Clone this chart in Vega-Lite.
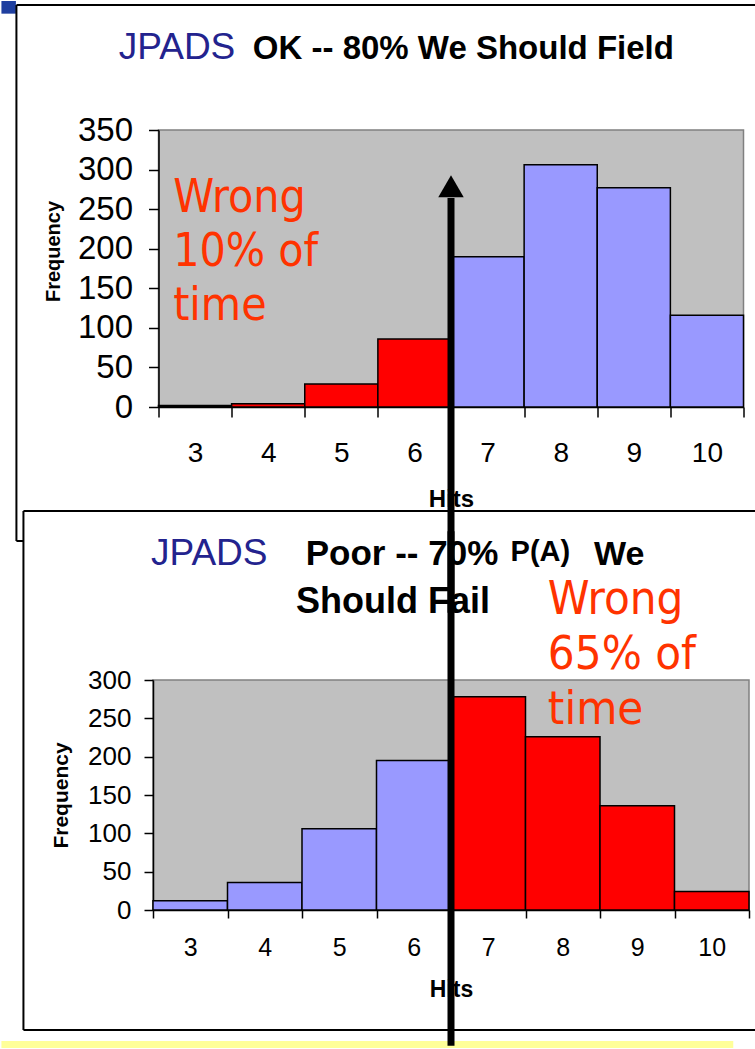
{
  "$schema": "https://vega.github.io/schema/vega-lite/v6.json",
  "padding": 0,
  "autosize": {"type": "pad"},
  "background": "white",
  "datasets": {
    "ok": [
      {"hits": 3, "frequency": 2, "outcome": "wrong"},
      {"hits": 4, "frequency": 4, "outcome": "wrong"},
      {"hits": 5, "frequency": 29, "outcome": "wrong"},
      {"hits": 6, "frequency": 86, "outcome": "wrong"},
      {"hits": 7, "frequency": 190, "outcome": "right"},
      {"hits": 8, "frequency": 306, "outcome": "right"},
      {"hits": 9, "frequency": 277, "outcome": "right"},
      {"hits": 10, "frequency": 116, "outcome": "right"}
    ],
    "poor": [
      {"hits": 3, "frequency": 12, "outcome": "right"},
      {"hits": 4, "frequency": 36, "outcome": "right"},
      {"hits": 5, "frequency": 106, "outcome": "right"},
      {"hits": 6, "frequency": 195, "outcome": "right"},
      {"hits": 7, "frequency": 278, "outcome": "wrong"},
      {"hits": 8, "frequency": 226, "outcome": "wrong"},
      {"hits": 9, "frequency": 136, "outcome": "wrong"},
      {"hits": 10, "frequency": 24, "outcome": "wrong"}
    ]
  },
  "vconcat": [
    {
      "width": 585,
      "height": 277,
      "layer": [
        {
          "data": {"name": "ok"},
          "mark": {"type": "bar", "stroke": "black", "strokeWidth": 1.5},
          "encoding": {
            "x": {
              "field": "hits",
              "type": "ordinal",
              "scale": {"domain": [3, 4, 5, 6, 7, 8, 9, 10], "paddingInner": 0, "paddingOuter": 0},
              "axis": {
                "title": "Hits",
                "labelAngle": 0,
                "tickBand": "extent",
                "tickSize": 10,
                "labelFontSize": 28,
                "labelPadding": 22,
                "labelOverlap": false,
                "titleFontSize": 24,
                "titleFontWeight": "bold",
                "titlePadding": 20,
                "domainWidth": 1.5
              }
            },
            "y": {
              "field": "frequency",
              "type": "quantitative",
              "scale": {"domain": [0, 350], "nice": false},
              "axis": {
                "title": "Frequency",
                "values": [0, 50, 100, 150, 200, 250, 300, 350],
                "tickCount": 8,
                "tickSize": 10,
                "labelFontSize": 33,
                "labelPadding": 16,
                "labelOverlap": false,
                "titleFontSize": 20,
                "titleFontWeight": "bold",
                "titlePadding": 14,
                "titleY": 121,
                "domainWidth": 1.5
              }
            },
            "color": {
              "field": "outcome",
              "type": "nominal",
              "scale": {"domain": ["wrong", "right"], "range": ["#FF0000", "#9999FF"]},
              "legend": null
            }
          }
        },
        {
          "data": {"values": [{}]},
          "mark": {"type": "rect", "fill": "#1F3F9F"},
          "encoding": {
            "x": {"datum": 3, "type": "ordinal", "bandPosition": -2.148},
            "x2": {"datum": 3, "bandPosition": -1.95},
            "y": {"datum": 513, "type": "quantitative"},
            "y2": {"datum": 497}
          }
        },
        {
          "data": {"values": [{}]},
          "mark": {"type": "rule", "color": "black", "strokeWidth": 2},
          "encoding": {
            "x": {"datum": 3, "type": "ordinal", "bandPosition": -1.943},
            "x2": {"datum": 10, "bandPosition": 1.16},
            "y": {"datum": 508, "type": "quantitative"}
          }
        },
        {
          "data": {"values": [{}]},
          "mark": {"type": "rule", "color": "black", "strokeWidth": 2},
          "encoding": {
            "x": {"datum": 3, "type": "ordinal", "bandPosition": -1.943},
            "y": {"datum": 508, "type": "quantitative"},
            "y2": {"datum": -169.3}
          }
        },
        {
          "data": {"values": [{}]},
          "mark": {"type": "rule", "color": "black", "strokeWidth": 2},
          "encoding": {
            "x": {"datum": 3, "type": "ordinal", "bandPosition": -1.943},
            "x2": {"datum": 10, "bandPosition": 1.16},
            "y": {"datum": -169.3, "type": "quantitative"}
          }
        },
        {
          "data": {"values": [{}]},
          "mark": {"type": "rect", "fill": "white"},
          "encoding": {
            "x": {"datum": 3, "type": "ordinal", "bandPosition": -1.847},
            "x2": {"datum": 10, "bandPosition": 1.16},
            "y": {"datum": -131.4, "type": "quantitative"},
            "y2": {"datum": -787.2}
          }
        },
        {
          "data": {"values": [{}]},
          "mark": {"type": "rule", "color": "black", "strokeWidth": 2},
          "encoding": {
            "x": {"datum": 3, "type": "ordinal", "bandPosition": -1.847},
            "x2": {"datum": 10, "bandPosition": 1.16},
            "y": {"datum": -131.4, "type": "quantitative"}
          }
        },
        {
          "data": {"values": [{}]},
          "mark": {"type": "rule", "color": "black", "strokeWidth": 2},
          "encoding": {
            "x": {"datum": 3, "type": "ordinal", "bandPosition": -1.847},
            "y": {"datum": -131.4, "type": "quantitative"},
            "y2": {"datum": -787.2}
          }
        },
        {
          "data": {"values": [{}]},
          "mark": {"type": "rule", "color": "black", "strokeWidth": 2},
          "encoding": {
            "x": {"datum": 3, "type": "ordinal", "bandPosition": -1.847},
            "x2": {"datum": 10, "bandPosition": 1.16},
            "y": {"datum": -787.2, "type": "quantitative"}
          }
        },
        {
          "data": {"values": [{}]},
          "mark": {"type": "rect", "fill": "#FFFF99"},
          "encoding": {
            "x": {"datum": 3, "type": "ordinal", "bandPosition": -2.148},
            "x2": {"datum": 10, "bandPosition": 0.86},
            "y": {"datum": -801, "type": "quantitative"},
            "y2": {"datum": -810}
          }
        },
        {
          "data": {"values": [{"t": "JPADS"}]},
          "mark": {"type": "text", "align": "right", "baseline": "alphabetic", "font": "Liberation Sans", "fontSize": 37, "color": "#23238E"},
          "encoding": {
            "x": {"datum": 4, "type": "ordinal", "bandPosition": 0.05},
            "y": {"datum": 439.7, "type": "quantitative"},
            "text": {"field": "t"}
          }
        },
        {
          "data": {"values": [{"t": "OK -- 80% We Should Field"}]},
          "mark": {"type": "text", "align": "left", "baseline": "alphabetic", "font": "Liberation Sans", "fontSize": 33, "fontWeight": "bold", "color": "black"},
          "encoding": {
            "x": {"datum": 4, "type": "ordinal", "bandPosition": 0.29},
            "y": {"datum": 439.7, "type": "quantitative"},
            "text": {"field": "t"}
          }
        },
        {
          "data": {"values": [{"t": "Wrong\n10% of\ntime"}]},
          "mark": {"type": "text", "align": "left", "baseline": "alphabetic", "lineBreak": "\n", "lineHeight": 54, "font": "DejaVu Sans Condensed, DejaVu Sans", "fontSize": 46, "color": "#FF3300"},
          "encoding": {
            "x": {"datum": 3, "type": "ordinal", "bandPosition": 0.2},
            "y": {"datum": 246, "type": "quantitative"},
            "text": {"field": "t"}
          }
        },
        {
          "data": {"values": [{}]},
          "mark": {"type": "rule", "color": "black", "strokeWidth": 7},
          "encoding": {
            "x": {"datum": 7, "type": "ordinal", "bandPosition": 0},
            "y": {"datum": 264, "type": "quantitative"},
            "y2": {"datum": -260}
          }
        },
        {
          "data": {"values": [{}]},
          "mark": {"type": "point", "shape": "triangle-up", "filled": true, "color": "black", "opacity": 1, "size": 650},
          "encoding": {
            "x": {"datum": 7, "type": "ordinal", "bandPosition": 0},
            "y": {"datum": 279, "type": "quantitative"}
          }
        }
      ]
    },
    {
      "width": 596,
      "height": 230,
      "layer": [
        {
          "data": {"name": "poor"},
          "mark": {"type": "bar", "stroke": "black", "strokeWidth": 1.5},
          "encoding": {
            "x": {
              "field": "hits",
              "type": "ordinal",
              "scale": {"domain": [3, 4, 5, 6, 7, 8, 9, 10], "paddingInner": 0, "paddingOuter": 0},
              "axis": {
                "title": "Hits",
                "labelAngle": 0,
                "tickBand": "extent",
                "tickSize": 8,
                "labelFontSize": 25,
                "labelPadding": 17,
                "labelOverlap": false,
                "titleFontSize": 23,
                "titleFontWeight": "bold",
                "titlePadding": 18,
                "domainWidth": 1.5
              }
            },
            "y": {
              "field": "frequency",
              "type": "quantitative",
              "scale": {"domain": [0, 300], "nice": false},
              "axis": {
                "title": "Frequency",
                "values": [0, 50, 100, 150, 200, 250, 300],
                "tickCount": 7,
                "tickSize": 9,
                "labelFontSize": 26,
                "labelPadding": 13,
                "labelOverlap": false,
                "titleFontSize": 21,
                "titleFontWeight": "bold",
                "titlePadding": 16,
                "domainWidth": 1.5
              }
            },
            "color": {
              "field": "outcome",
              "type": "nominal",
              "scale": {"domain": ["wrong", "right"], "range": ["#FF0000", "#9999FF"]},
              "legend": null
            }
          }
        },
        {
          "data": {"values": [{"t": "JPADS"}]},
          "mark": {"type": "text", "align": "left", "baseline": "alphabetic", "font": "Liberation Sans", "fontSize": 37, "color": "#23238E"},
          "encoding": {
            "x": {"datum": 3, "type": "ordinal", "bandPosition": -0.027},
            "y": {"datum": 450, "type": "quantitative"},
            "text": {"field": "t"}
          }
        },
        {
          "data": {"values": [{"t": "Poor -- 70%"}]},
          "mark": {"type": "text", "align": "left", "baseline": "alphabetic", "font": "Liberation Sans", "fontSize": 35, "fontWeight": "bold", "color": "black"},
          "encoding": {
            "x": {"datum": 5, "type": "ordinal", "bandPosition": 0.05},
            "y": {"datum": 450, "type": "quantitative"},
            "text": {"field": "t"}
          }
        },
        {
          "data": {"values": [{"t": "P(A)"}]},
          "mark": {"type": "text", "align": "left", "baseline": "alphabetic", "font": "Liberation Sans", "fontSize": 29, "fontWeight": "bold", "color": "black"},
          "encoding": {
            "x": {"datum": 7, "type": "ordinal", "bandPosition": 0.8},
            "y": {"datum": 455, "type": "quantitative"},
            "text": {"field": "t"}
          }
        },
        {
          "data": {"values": [{"t": "We"}]},
          "mark": {"type": "text", "align": "left", "baseline": "alphabetic", "font": "Liberation Sans", "fontSize": 34, "fontWeight": "bold", "color": "black"},
          "encoding": {
            "x": {"datum": 8, "type": "ordinal", "bandPosition": 0.92},
            "y": {"datum": 450, "type": "quantitative"},
            "text": {"field": "t"}
          }
        },
        {
          "data": {"values": [{"t": "Should Fail"}]},
          "mark": {"type": "text", "align": "left", "baseline": "alphabetic", "font": "Liberation Sans", "fontSize": 36, "fontWeight": "bold", "color": "black"},
          "encoding": {
            "x": {"datum": 4, "type": "ordinal", "bandPosition": 0.92},
            "y": {"datum": 387, "type": "quantitative"},
            "text": {"field": "t"}
          }
        },
        {
          "data": {"values": [{"t": "Wrong\n65% of\ntime"}]},
          "mark": {"type": "text", "align": "left", "baseline": "alphabetic", "lineBreak": "\n", "lineHeight": 55, "font": "DejaVu Sans Condensed, DejaVu Sans", "fontSize": 47, "color": "#FF3300"},
          "encoding": {
            "x": {"datum": 8, "type": "ordinal", "bandPosition": 0.3},
            "y": {"datum": 386, "type": "quantitative"},
            "text": {"field": "t"}
          }
        },
        {
          "data": {"values": [{}]},
          "mark": {"type": "rule", "color": "black", "strokeWidth": 7},
          "encoding": {
            "x": {"datum": 7, "type": "ordinal", "bandPosition": 0},
            "y": {"datum": 494, "type": "quantitative"},
            "y2": {"datum": -177}
          }
        }
      ]
    }
  ],
  "spacing": 273,
  "bounds": "flush",
  "center": true,
  "config": {
    "view": {"fill": "#C0C0C0", "stroke": "#808080", "strokeWidth": 1.5},
    "axis": {
      "labelFont": "Liberation Sans",
      "titleFont": "Liberation Sans",
      "labelColor": "black",
      "titleColor": "black",
      "domainColor": "black",
      "tickColor": "black",
      "tickWidth": 1.5,
      "labelOverlap": false,
      "grid": false
    }
  }
}
